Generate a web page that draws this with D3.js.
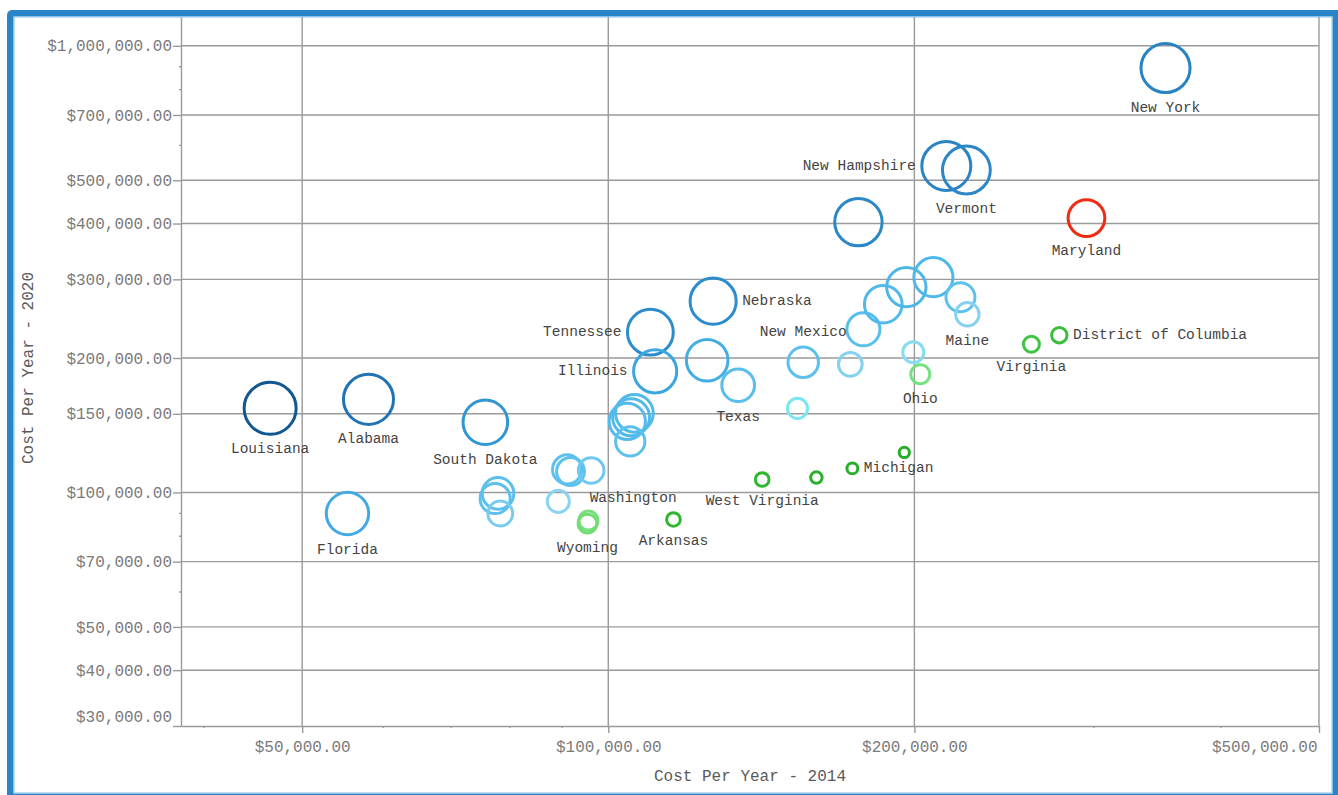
<!DOCTYPE html>
<html>
<head>
<meta charset="utf-8">
<script src="https://cdn.jsdelivr.net/npm/d3@7"></script>
<style>
  body { margin: 0; background: #fff; }
  text { font-family: "Liberation Mono", "Courier New", monospace; }
</style>
</head>
<body>
<script>
// values (unlabelled bubbles have an empty name)
const states = [
  "Louisiana", "Alabama", "Florida", "South Dakota", "", "", "", "", "", "",
  "Washington", "", "Wyoming", "", "", "", "", "Tennessee", "Illinois", "Nebraska",
  "", "Texas", "New Mexico", "", "", "", "", "", "", "",
  "Maine", "", "Ohio", "West Virginia", "", "Michigan", "", "Arkansas", "Virginia", "District of Columbia",
  "Maryland", "New York", "New Hampshire", "Vermont", ""
];
const cost2014 = [
  46500, 58100, 55400, 75700, 77900, 77400, 78300, 89300, 91100, 91800,
  96200, 95600, 95400, 106100, 105300, 104400, 105100, 110000, 111200, 126800,
  125100, 134200, 155500, 153500, 173000, 178200, 186400, 196400, 208800, 222000,
  225500, 199500, 202700, 141700, 160200, 173800, 195500, 115900, 260700, 277700,
  295300, 353200, 215000, 225000, 176200
];
const cost2020 = [
  154300, 161600, 89700, 143600, 99500, 96900, 89700, 95500, 112600, 111400,
  112000, 86500, 85200, 150400, 147300, 144300, 130100, 228500, 186700, 268100,
  197700, 173800, 195600, 154300, 193600, 231900, 263900, 288200, 303400, 273600,
  250600, 206000, 183900, 106900, 108000, 113200, 122900, 87000, 214700, 224900,
  411400, 892000, 538200, 527200, 403000
];
const highlighted = ["Maryland"];

const xTicks = [50000, 100000, 200000, 500000];
const xMinorTicks = [40000, 60000, 70000, 80000, 90000, 300000, 400000];
const yTicks = [30000, 40000, 50000, 70000, 100000, 150000, 200000, 300000, 400000, 500000, 700000, 1000000];
const yMinorTicks = [60000, 80000, 90000, 600000, 800000, 900000];

// where each label sits relative to its bubble
const labelPos = {
  "Louisiana": "below", "Alabama": "below", "Florida": "below", "South Dakota": "below",
  "Washington": [42, 28], "Wyoming": "below", "Tennessee": "left", "Illinois": "left",
  "Nebraska": "right", "Texas": "below", "New Mexico": "above", "Maine": "below",
  "Ohio": "below", "West Virginia": "below", "Michigan": "right", "Arkansas": "below",
  "Virginia": "below", "District of Columbia": "right", "Maryland": "below",
  "New York": "below", "New Hampshire": "left", "Vermont": "below"
};

const W = 1338, H = 795;
const LEFT = 181, RIGHT = 1319, TOP = 17, BOTTOM = 726;

const data = states.map((s, i) => ({
  name: s, x2014: cost2014[i], y2020: cost2020[i], ratio: cost2020[i] / cost2014[i]
}));

const fmt = d3.format("$,.2f");

const x = d3.scaleLog().domain([38000, 500000]).range([LEFT, RIGHT]);
const y = d3.scaleLog().domain([30000, 1160000]).range([BOTTOM, TOP]);

const rScale = d3.scaleLinear()
  .domain([0.62, 0.8, 0.9, 1.0, 1.1, 1.2, 1.3, 1.45, 1.65, 2.1, 2.5, 3.3])
  .range([5, 7.5, 9.5, 10, 11.5, 13.5, 16.5, 19.5, 21.5, 23, 24.5, 26])
  .clamp(true);
const colorScale = d3.scaleLinear()
  .domain([0.63, 0.8, 0.9, 1.0, 1.05, 1.12, 1.2, 1.45, 1.7, 2.0, 2.5, 2.8, 3.3])
  .range(["#26ac26", "#34ba34", "#78df78", "#78e8f2", "#8dd6f2", "#86d0f0", "#5ec2ee", "#4fb8ea",
          "#3aa4de", "#2c8fcf", "#2a83c3", "#2072b2", "#125790"])
  .clamp(true);

const svg = d3.select("body").append("svg")
  .attr("width", W)
  .attr("height", H);

// frame
svg.append("rect")
  .attr("x", 7).attr("y", 10)
  .attr("width", 1340).attr("height", 810)
  .attr("rx", 5)
  .attr("fill", "#2a84c8");
svg.append("rect")
  .attr("x", 14).attr("y", 17)
  .attr("width", 1318).attr("height", 776)
  .attr("fill", "#fff")
  .attr("stroke", "#acd6f2")
  .attr("stroke-width", 1.5);

// grid
const grid = svg.append("g").attr("stroke", "#9a9a9a").attr("stroke-width", 1.4);
grid.selectAll(".hg").data(yTicks.filter(v => v > 30000))
  .enter().append("line")
  .attr("x1", LEFT).attr("x2", RIGHT)
  .attr("y1", d => y(d)).attr("y2", d => y(d));
grid.selectAll(".vg").data(xTicks)
  .enter().append("line")
  .attr("x1", d => x(d)).attr("x2", d => x(d))
  .attr("y1", TOP).attr("y2", BOTTOM);

// axes
const yAxis = svg.append("g")
  .attr("transform", `translate(${LEFT},0)`)
  .call(d3.axisLeft(y).tickValues(yTicks).tickFormat(fmt).tickSize(8).tickSizeOuter(0).tickPadding(1));
svg.append("g")
  .attr("transform", `translate(${LEFT},0)`)
  .call(d3.axisLeft(y).tickValues(yMinorTicks).tickFormat("").tickSize(2).tickSizeOuter(0))
  .select(".domain").remove();

const xAxis = svg.append("g")
  .attr("transform", `translate(0,${BOTTOM})`)
  .call(d3.axisBottom(x).tickValues(xTicks).tickFormat(fmt).tickSize(7).tickSizeOuter(0).tickPadding(8));
svg.append("g")
  .attr("transform", `translate(0,${BOTTOM})`)
  .call(d3.axisBottom(x).tickValues(xMinorTicks).tickFormat("").tickSize(2).tickSizeOuter(0))
  .select(".domain").remove();

svg.selectAll(".tick line").attr("stroke", "#9a9a9a").attr("stroke-width", 1.4);
svg.selectAll(".domain").attr("stroke", "#9a9a9a").attr("stroke-width", 1.4);
svg.selectAll(".tick text")
  .attr("fill", "#7a7a7a")
  .attr("font-size", "16px")
  .attr("font-family", "Liberation Mono, Courier New, monospace");
// lowest y label is pushed up off the x axis, last x label kept inside
yAxis.selectAll(".tick text").filter(d => d === 30000).attr("y", -10);
xAxis.selectAll(".tick text").filter(d => d === 500000)
  .attr("text-anchor", "end").attr("x", -2);

// titles
svg.append("text")
  .attr("x", 750).attr("y", 777)
  .attr("text-anchor", "middle")
  .attr("dominant-baseline", "central")
  .attr("fill", "#5a5a5a")
  .attr("font-size", "16px")
  .text("Cost Per Year - 2014");
svg.append("text")
  .attr("transform", "translate(29,368) rotate(-90)")
  .attr("text-anchor", "middle")
  .attr("dominant-baseline", "central")
  .attr("fill", "#5a5a5a")
  .attr("font-size", "16px")
  .text("Cost Per Year - 2020");

// bubbles
svg.append("g").selectAll("circle")
  .data(data)
  .enter().append("circle")
  .attr("cx", d => x(d.x2014))
  .attr("cy", d => y(d.y2020))
  .attr("r", d => rScale(d.ratio))
  .attr("fill", "none")
  .attr("stroke", d => highlighted.includes(d.name) ? "#ee2c12" : colorScale(d.ratio))
  .attr("stroke-width", 3);

// labels
svg.append("g").selectAll("text")
  .data(data.filter(d => d.name !== ""))
  .enter().append("text")
  .attr("font-size", "14.5px")
  .attr("fill", "#444")
  .attr("dominant-baseline", "central")
  .each(function (d) {
    const cx = x(d.x2014), cy = y(d.y2020), r = rScale(d.ratio);
    const p = labelPos[d.name] || "below";
    let tx = cx, ty = cy, anchor = "middle";
    if (Array.isArray(p)) { tx = cx + p[0]; ty = cy + p[1]; }
    else if (p === "below") ty = cy + r + 15;
    else if (p === "above") ty = cy - r - 15;
    else if (p === "left") { tx = cx - r - 6; anchor = "end"; }
    else if (p === "right") { tx = cx + r + 6; anchor = "start"; }
    d3.select(this).attr("x", tx).attr("y", ty).attr("text-anchor", anchor);
  })
  .text(d => d.name);
</script>
</body>
</html>
